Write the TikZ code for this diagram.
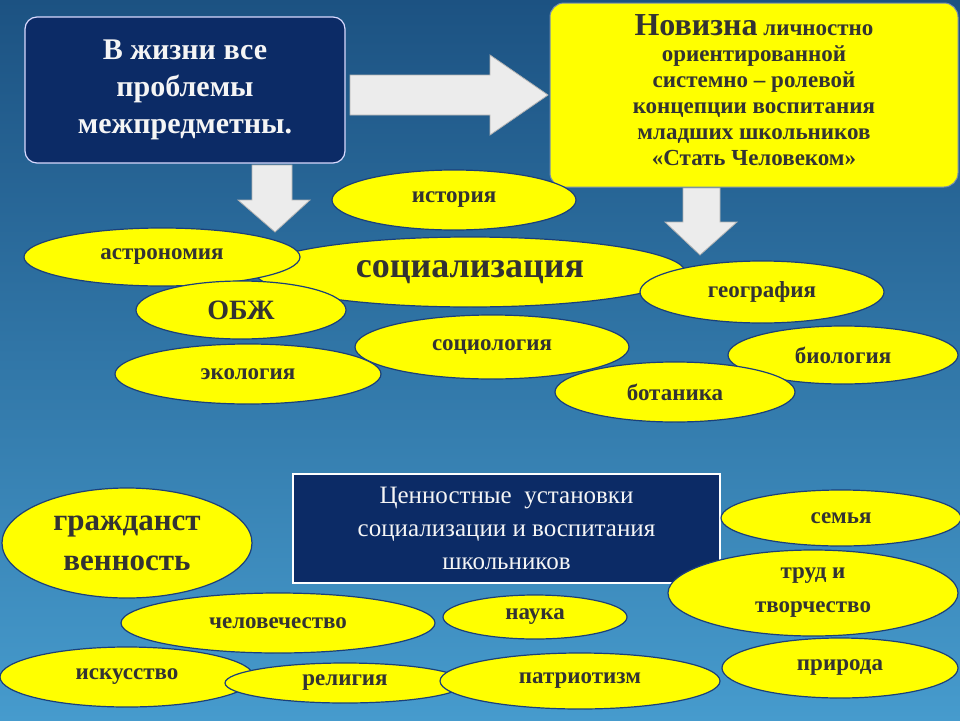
\documentclass[tikz,border=0pt]{standalone}
\usepackage{fontspec}
\setmainfont{Liberation Serif}
\usetikzlibrary{shapes.geometric,shadows}
\definecolor{navy}{HTML}{0C2B66}
\definecolor{ylw}{HTML}{FFFF00}
\definecolor{txt}{HTML}{333333}
\definecolor{edge}{HTML}{1B3F7A}
\tikzset{
 ov/.style={ellipse,fill=ylw,draw=edge,line width=1.2pt,inner sep=0pt,text=txt,font=\bfseries\fontsize{23}{25}\selectfont,align=center},
 barrow/.style={fill=gray!15,draw=gray!60,line width=0.8pt},
 navybox/.style={fill=navy,draw=white!85!blue,line width=1.2pt,text=white!92!gray,align=center}
}
\begin{document}
\begin{tikzpicture}[x=1pt,y=-1pt]
\shade[top color={rgb,255:red,28;green,82;blue,130},bottom color={rgb,255:red,70;green,155;blue,205}] (0,0) rectangle (960,720);
\useasboundingbox (0,0) rectangle (960,720);
% box 1
\draw[navybox,rounded corners=12pt] (25,17) rectangle (345,163);
\node[text=white!92!gray,align=center,font=\bfseries\fontsize{30}{37}\selectfont] (b1) at (185,90) {В жизни все\\проблемы\\межпредметны.};
% right arrow
\draw[barrow] (350,75)--(490,75)--(490,55)--(548,95)--(490,135)--(490,115)--(350,115)--cycle;
% box 2
\draw[fill=ylw,draw=edge!60,line width=1pt,rounded corners=14pt] (550,3) rectangle (958,187);
\node[text=txt,align=center,font=\bfseries\fontsize{23}{26}\selectfont] (b2) at (754,90)
 {{\fontsize{32}{30}\selectfont Новизна} личностно\\ориентированной\\системно – ролевой\\концепции воспитания\\младших школьников\\«Стать Человеком»};
% down arrows
\draw[barrow] (252,165)--(292,165)--(292,200)--(310,200)--(275,232)--(238,200)--(252,200)--cycle;
\draw[barrow] (683,188)--(720,188)--(720,222)--(737,222)--(700,255)--(665,222)--(683,222)--cycle;
% ellipses top
\node[ov,minimum width=244,minimum height=60] (hist) at (454,200) {история};
\node[ov,minimum width=430,minimum height=70,font=\bfseries\fontsize{36}{38}\selectfont] (soc) at (470,272) {социализация};
\node[ov,minimum width=276,minimum height=58] (astr) at (162,257) {астрономия};
\node[ov,minimum width=244,minimum height=62] (geo) at (762,292) {география};
\node[ov,minimum width=210,minimum height=58,font=\bfseries\fontsize{28}{30}\selectfont] (obzh) at (241,310) {ОБЖ};
\node[ov,minimum width=274,minimum height=64] (sociol) at (492,347) {социология};
\node[ov,minimum width=230,minimum height=58] (bio) at (843,355) {биология};
\node[ov,minimum width=266,minimum height=60] (eco) at (248,374) {экология};
\node[ov,minimum width=240,minimum height=60] (bot) at (675,392) {ботаника};
% bottom box
\node[navybox,draw=white,minimum width=427,minimum height=109,font=\fontsize{25}{33}\selectfont] (val) at (506.5,528.5) {Ценностные\ \ установки\\социализации и воспитания\\школьников};
% bottom ellipses
\node[ov,minimum width=250,minimum height=110,font=\bfseries\fontsize{31}{40}\selectfont] (civ) at (127,543) {гражданст\\венность};
\node[ov,minimum width=240,minimum height=56] (fam) at (841,518) {семья};
\node[ov,minimum width=290,minimum height=86,font=\bfseries\fontsize{23}{34}\selectfont] (work) at (813,593) {труд и\\творчество};
\node[ov,minimum width=314,minimum height=60] (hum) at (278,623) {человечество};
\node[ov,minimum width=184,minimum height=44] (sci) at (535,617) {наука};
\node[ov,minimum width=236,minimum height=60] (nat) at (840,668) {природа};
\node[ov,minimum width=254,minimum height=60] (art) at (127,677) {искусство};
\node[ov,minimum width=240,minimum height=40] (rel) at (345,683) {религия};
\node[ov,minimum width=280,minimum height=56] (pat) at (580,681) {патриотизм};
\end{tikzpicture}
\end{document}
